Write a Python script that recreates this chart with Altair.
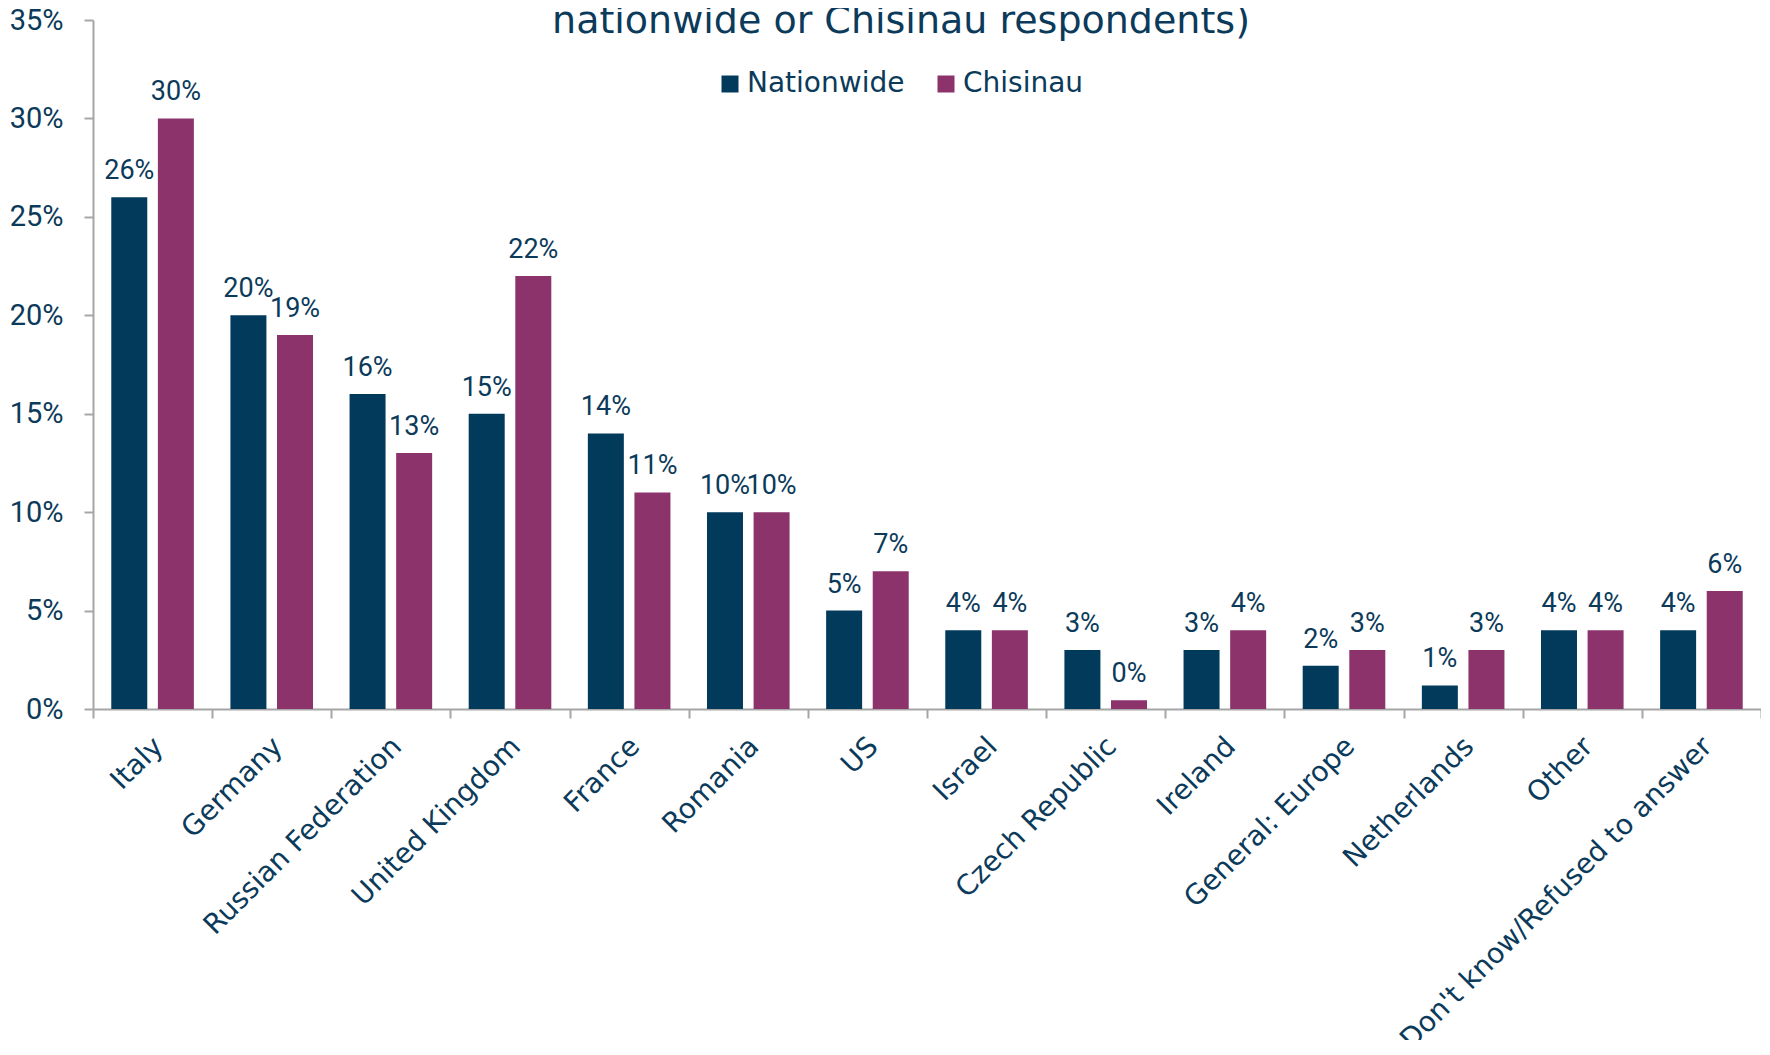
import altair as alt
import pandas as pd

categories = ["Italy", "Germany", "Russian Federation", "United Kingdom", "France",
              "Romania", "US", "Israel", "Czech Republic", "Ireland",
              "General: Europe", "Netherlands", "Other", "Don't know/Refused to answer"]
nationwide = [26, 20, 16, 15, 14, 10, 5, 4, 3, 3, 2.2, 1.2, 4, 4]
chisinau = [30, 19, 13, 22, 11, 10, 7, 4, 0.45, 4, 3, 3, 4, 6]
series = ["Nationwide", "Chisinau"]
colors = ["#023a5c", "#8c336c"]
y_ticks = [0, 0.05, 0.10, 0.15, 0.20, 0.25, 0.30, 0.35]
title_text = "nationwide or Chisinau respondents)"

TXT = "#0b3a5a"
GRAY = "#a6a6a6"
NUM_FONT = "Roboto"
LBL_FONT = "DejaVu Sans"

rows = []
for i, c in enumerate(categories):
    rows.append({"category": c, "series": series[0], "value": nationwide[i]})
    rows.append({"category": c, "series": series[1], "value": chisinau[i]})
df = pd.DataFrame(rows)

base = alt.Chart(df).transform_calculate(frac="datum.value / 100")

x_enc = alt.X(
    "category:N", sort=categories,
    scale=alt.Scale(paddingInner=0, paddingOuter=0),
    axis=alt.Axis(
        title=None, labelAngle=-45, labelAlign="right", labelBaseline="middle",
        labelFont=LBL_FONT, labelFontSize=28, labelColor=TXT, labelPadding=24,
        labelOffset=6, labelLimit=1000, tickBand="extent", tickSize=9,
        tickColor=GRAY, tickWidth=2, domainColor=GRAY, domainWidth=2,
    ),
)
xoff_enc = alt.XOffset(
    "series:N", sort=series,
    scale=alt.Scale(paddingInner=0.2275, paddingOuter=0.392),
)
y_enc = alt.Y(
    "frac:Q",
    scale=alt.Scale(domain=[0, 0.35], nice=False),
    axis=alt.Axis(
        title=None, values=y_ticks, format=".0%", grid=False,
        labelFont=NUM_FONT, labelFontSize=29, labelColor=TXT, labelPadding=21,
        tickSize=9, tickColor=GRAY, tickWidth=2, domainColor=GRAY, domainWidth=2,
    ),
)

bars = base.mark_bar().encode(
    x=x_enc,
    xOffset=xoff_enc,
    y=y_enc,
    color=alt.Color(
        "series:N", sort=series,
        scale=alt.Scale(domain=series, range=colors),
        legend=alt.Legend(
            title=None, orient="none", legendX=623, legendY=50,
            direction="horizontal", symbolType="square", symbolSize=289,
            symbolStrokeWidth=0, labelFont=LBL_FONT, labelFontSize=28,
            labelColor=TXT, columnPadding=27, labelOffset=3, padding=0,
        ),
    ),
)

labels = base.mark_text(
    dy=-18, baseline="alphabetic", font=NUM_FONT, fontSize=27, color=TXT
).encode(
    x=x_enc,
    xOffset=xoff_enc,
    y=y_enc,
    text=alt.Text("frac:Q", format=".0%"),
)

chart = alt.layer(bars, labels).properties(
    width=1668,
    height=689,
    title=alt.TitleParams(
        text=title_text, font=LBL_FONT, fontSize=38, fontWeight="normal",
        color=TXT, anchor="middle", frame="group", offset=0,
        baseline="alphabetic", dx=-26, dy=65,
    ),
    padding={"left": 85, "top": 12, "right": 0, "bottom": 331},
    autosize=alt.AutoSizeParams(type="none"),
).configure_view(stroke=None)

chart.save("out.html", embed_options={"renderer": "svg", "actions": False})
